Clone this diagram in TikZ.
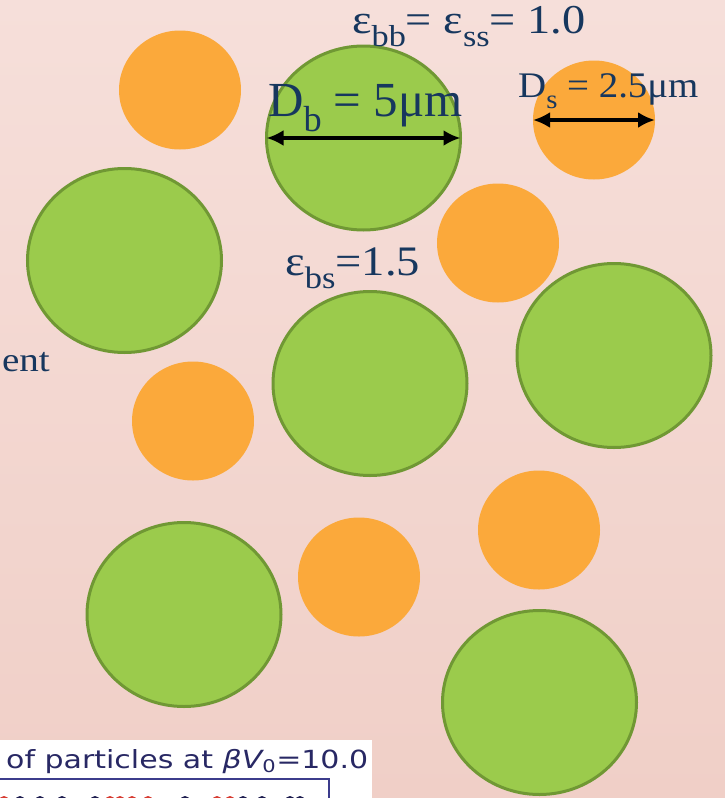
\documentclass[tikz,border=0pt]{standalone}
\usepackage{fontspec}
\setmainfont{Liberation Serif}
\newfontfamily\plotfont{DejaVu Sans}
\usetikzlibrary{arrows.meta,shapes.geometric}
\definecolor{bgtop}{RGB}{246,223,218}
\definecolor{bgbot}{RGB}{240,207,199}
\definecolor{bfill}{RGB}{155,203,76}
\definecolor{bline}{RGB}{112,152,52}
\definecolor{sfill}{RGB}{251,169,59}
\definecolor{navy}{RGB}{23,55,94}
\definecolor{plotblue}{RGB}{40,40,100}
\definecolor{plotframe}{RGB}{60,60,140}
\definecolor{dotred}{RGB}{215,60,50}
\definecolor{dotnavy}{RGB}{30,30,80}
\newcommand\lsub[1]{\raisebox{-0.32em}{\scalebox{0.74}{#1}}}
\newcommand\wide[2]{\scalebox{#1}[1]{#2}}
\begin{document}
\begin{tikzpicture}[x=1pt,y=-1pt,
  big/.style={ellipse,draw=bline,line width=3pt,fill=bfill,minimum width=194pt,minimum height=184pt,inner sep=0pt,outer sep=0pt},
  small/.style={ellipse,fill=sfill,minimum width=122pt,minimum height=119pt,inner sep=0pt,outer sep=0pt},
  lbl/.style={text=navy,inner sep=0pt,anchor=base west},
  dim/.style={{Latex[length=17pt,width=16pt]}-{Latex[length=17pt,width=16pt]},line width=4pt,black}]
\useasboundingbox (0,0) rectangle (725,798);
\shade[top color=bgtop,bottom color=bgbot] (0,0) rectangle (725,798);
% small particles
\node[small] (s1) at (180,90) {};
\node[small] (s2) at (594,120) {};
\node[small] (s3) at (498,243) {};
\node[small] (s4) at (193,421) {};
\node[small] (s5) at (539,530) {};
\node[small] (s6) at (359,577) {};
% big particles
\node[big] (g1) at (363.5,138) {};
\node[big] (g2) at (124.5,260.5) {};
\node[big] (g3) at (370,383.5) {};
\node[big] (g4) at (614,355.5) {};
\node[big] (g5) at (184,614.5) {};
\node[big] (g6) at (539.5,702.5) {};
% dimension arrows
\draw[dim] (g1.west) -- (g1.east);
\draw[dim] (s2.west) -- (s2.east);
% labels
\node[lbl,font=\fontsize{41}{41}\selectfont] (ebb) at (352,33) {\wide{1.13}{ε\lsub{bb}= ε\lsub{ss}= 1.0}};
\node[lbl,font=\fontsize{49}{49}\selectfont] (db) at (268,116) {D\lsub{b} = 5μm};
\node[lbl,font=\fontsize{36}{36}\selectfont] (ds) at (518,97) {\wide{1.08}{D\lsub{s} = 2.5μm}};
\node[lbl,font=\fontsize{42}{42}\selectfont] (ebs) at (285,275) {\wide{1.11}{ε\lsub{bs}=1.5}};
\node[text=navy,inner sep=0pt,anchor=base east,font=\fontsize{34}{34}\selectfont] (ent) at (50,371) {\wide{1.15}{ent}};
% inset of a plot
\fill[white] (0,740) rectangle (372,798);
\node[text=plotblue,inner sep=0pt,anchor=base west,font=\plotfont\fontsize{25}{25}\selectfont] (ptitle) at (6,768) {\wide{1.2}{of particles at {\itshape βV}\textsubscript{0}=10.0}};
\draw[plotframe,line width=2pt] (-2,779) -- (329,779) -- (329,800);
\foreach \x/\c in {4/dotred,20/dotnavy,40/dotnavy,62/dotnavy,95/dotnavy,110/dotred,120/dotred,132/dotred,148/dotred,185/dotnavy,217/dotred,230/dotred,243/dotnavy,262/dotnavy,290/dotnavy,300/dotnavy}
  \fill[\c] (\x,801) circle (5pt);
\end{tikzpicture}
\end{document}
